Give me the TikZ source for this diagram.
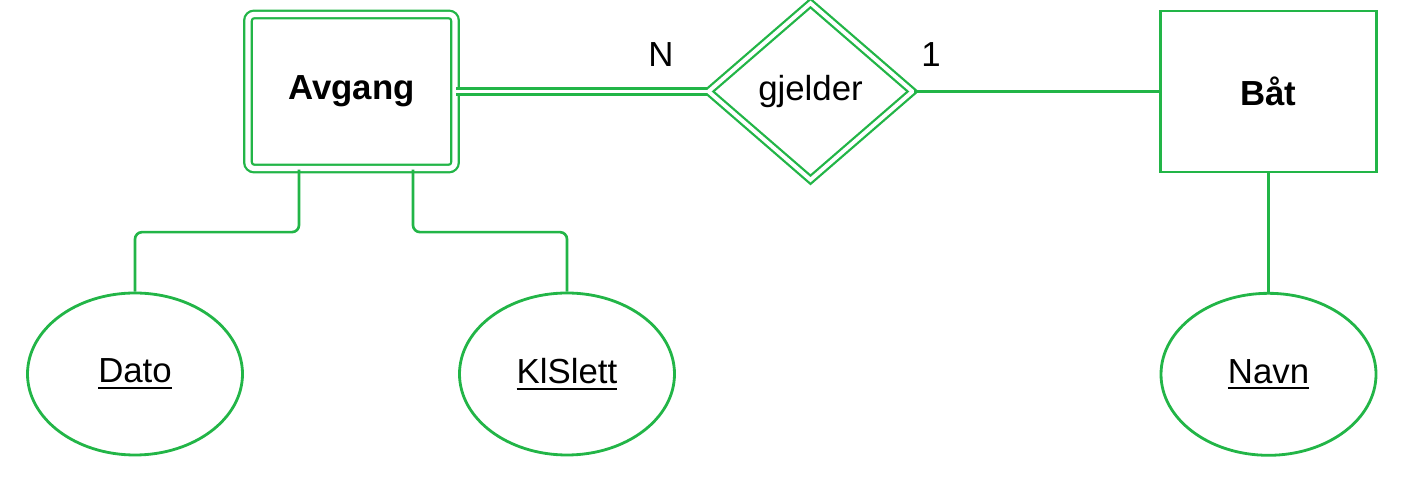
\documentclass[tikz,border=0pt]{standalone}
\usepackage{fontspec}
\setmainfont{Liberation Sans}
\usepackage{tikz}
\usetikzlibrary{positioning, shapes.geometric}
\definecolor{ergreen}{HTML}{22B547}
\newcommand{\keyattr}[1]{\setbox0\hbox{#1}\rlap{\rule[-3.4pt]{\wd0}{1.1pt}}\box0}

\begin{document}
\begin{tikzpicture}[
  every node/.style={font=\fontsize{19.8}{24}\selectfont},
  entity/.style={
    draw=ergreen, line width=1.6pt, align=center,
    minimum width=4.31cm, minimum height=3.22cm,
    font=\fontsize{19.8}{24}\selectfont\bfseries
  },
  weakentity/.style={
    entity, rounded corners=3.5pt, line width=1.3pt,
    double=white, double distance=3.0pt,
    minimum width=4.14cm, minimum height=3.08cm
  },
  weakrel/.style={
    diamond, draw=ergreen, line width=1.3pt, inner sep=0pt,
    double=white, double distance=2.2pt,
    minimum width=4.1cm, minimum height=3.55cm
  },
  attr/.style={
    ellipse, draw=ergreen, line width=1.6pt,
    minimum width=4.3cm, minimum height=3.24cm
  },
  link/.style={draw=ergreen, line width=1.5pt, rounded corners=4pt},
  totallink/.style={draw=ergreen, line width=1.2pt, double=white, double distance=2.2pt}
]
  \useasboundingbox (0,0) rectangle (28.12,9.56);

  \node[weakentity] (avgang) at (7.03,7.73) {Avgang};
  \node[weakrel] (gjelder) at (16.21,7.73) {gjelder};
  \node[entity] (baat) at (25.37,7.73) {Båt};

  \node[attr] (dato) at (2.7,2.08) {\keyattr{Dato}};
  \node[attr] (klslett) at (11.34,2.08) {\keyattr{KlSlett}};
  \node[attr, below=2.37cm of baat] (navn) {\keyattr{Navn}};

  % kardinalitet
  \node (cardN) at (13.22,8.46) {N};
  \node (cardOne) at (18.62,8.46) {1};

  \draw[totallink] (avgang) -- (gjelder);
  \draw[link] (gjelder) -- (baat);
  \draw[link] ([xshift=-1.05cm]avgang.south) -- ++(0,-1.25) -| (dato.north);
  \draw[link] ([xshift=1.23cm]avgang.south) -- ++(0,-1.25) -| (klslett.north);
  \draw[link] (baat) -- (navn);
\end{tikzpicture}
\end{document}
